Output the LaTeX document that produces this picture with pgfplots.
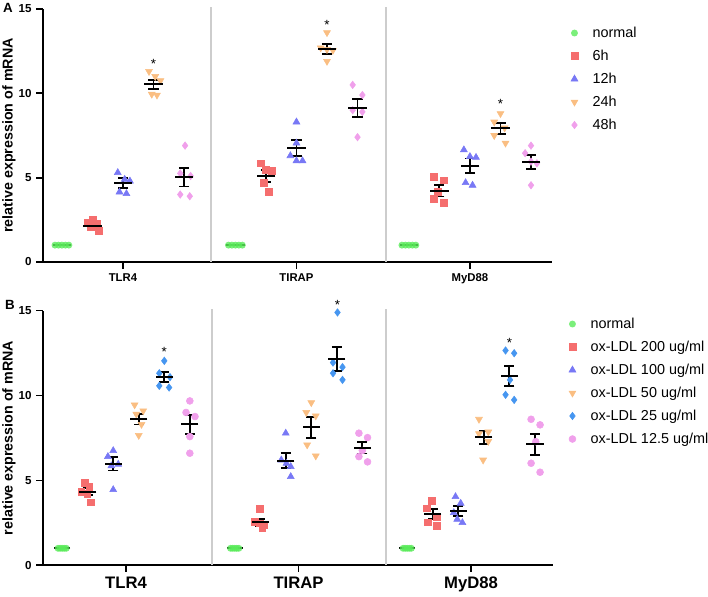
\documentclass[border=0pt]{standalone}
\usepackage{pgfplots}
\pgfplotsset{compat=1.18}
\usepackage{pgfplotstable}
\usepackage{fontspec}
\setmainfont{Liberation Sans}

\definecolor{cnormal}{RGB}{90,235,90}
\definecolor{cred}{RGB}{245,110,110}
\definecolor{cblue}{RGB}{120,120,245}
\definecolor{corange}{RGB}{250,190,130}
\definecolor{cpink}{RGB}{240,160,235}
\definecolor{cazure}{RGB}{70,150,240}
\definecolor{csep}{RGB}{205,205,205}

% mean and SEM per group (A: time course, B: ox-LDL dose)
\pgfplotstableread{
x      m      e
-0.176 2.15   0.15
0      4.68   0.28
0.176  10.53  0.28
0.352  5.02   0.54
0.824  5.10   0.36
1      6.75   0.47
1.176  12.62  0.28
1.352  9.15   0.53
1.824  4.22   0.34
2      5.70   0.44
2.176  7.93   0.32
2.352  5.93   0.40
}\semA
\pgfplotstableread{
x      m      e
-0.222 4.34   0.20
-0.074 5.97   0.39
0.074  8.60   0.31
0.222  11.08  0.29
0.370  8.31   0.56
0.778  2.53   0.20
0.926  6.16   0.44
1.074  8.13   0.62
1.222  12.16  0.71
1.370  6.91   0.33
1.778  3.02   0.30
1.926  3.20   0.28
2.074  7.54   0.39
2.222  11.15  0.61
2.370  7.13   0.62
}\semB

\pgfplotsset{
  panel/.style={
    scale only axis, anchor=south west, clip=false,
    axis lines=left, axis line style={-, line width=1.3pt},
    ymin=0, ymax=15, ytick={0,5,10,15},
    xtick={0,1,2}, xticklabels={TLR4,TIRAP,MyD88},
    tick align=outside, major tick length=5pt,
    tick style={black, line width=1.3pt},
    /pgf/number format/assume math mode=true,
    yticklabel style={font=\bfseries\fontsize{8.7}{10}\selectfont},
    ylabel={relative expression of mRNA},
    ylabel style={font=\bfseries\fontsize{10.7}{12}\selectfont,
      at={(axis description cs:-0.067,0.5)}, anchor=center},
    legend cell align=left,
    legend style={draw=none, fill=none, anchor=north west,
      font=\fontsize{10.8}{12}\selectfont,
      nodes={text height=8pt, text depth=2pt, inner ysep=0pt, inner xsep=11pt},
      row sep=7.25pt},
  },
  pts/.style={only marks, mark size=2.6pt},
  sem/.style={only marks, mark=-, mark size=#1, black, forget plot,
    mark options={line width=1.4pt},
    error bars/.cd, y dir=both, y explicit, error mark=|,
    error bar style={line width=1.4pt, black},
    error mark options={mark size=3.8pt, line width=1.4pt, black}},
  sem/.default=7pt,
}

\begin{document}
\begin{tikzpicture}
\useasboundingbox (0,0) rectangle (531pt,447.75pt);

% ---------------- panel A ----------------
\begin{axis}[panel, at={(32.25pt,251.25pt)},
  width=381.75pt, height=189.75pt,
  xmin=-0.461, xmax=2.473,
  xticklabel style={font=\bfseries\fontsize{8.5}{10}\selectfont},
  legend style={at={(rel axis cs:1.029,0.943)}}]
\draw[csep, line width=1.5pt] (axis cs:0.507,0) -- (axis cs:0.507,15.1);
\draw[csep, line width=1.5pt] (axis cs:1.516,0) -- (axis cs:1.516,15.1);
\addplot[only marks, mark=-, mark size=7pt, black, forget plot,
  mark options={line width=1.4pt}] coordinates {(-0.352,1)(0.648,1)(1.648,1)};
\addplot[pts, mark=*, color=cnormal, mark options={fill opacity=0.8, draw opacity=0}] coordinates {
  (-0.392,1)(-0.372,1)(-0.352,1)(-0.332,1)(-0.312,1)
  (0.608,1)(0.628,1)(0.648,1)(0.668,1)(0.688,1)
  (1.608,1)(1.628,1)(1.648,1)(1.668,1)(1.688,1)};
\addlegendentry{normal}
\addplot[pts, mark=square*, color=cred, mark size=2.5pt] coordinates {
  (-0.176,2.50)(-0.206,2.35)(-0.151,2.25)(-0.186,2.05)(-0.141,1.85)
  (0.794,5.85)(0.824,5.45)(0.858,5.40)(0.810,4.70)(0.842,4.15)
  (1.792,5.05)(1.850,4.85)(1.815,4.15)(1.792,3.75)(1.850,3.50)};
\addlegendentry{6h}
\addplot[pts, mark=triangle*, color=cblue, mark size=3pt] coordinates {
  (-0.030,5.30)(0.010,4.90)(0.040,4.80)(-0.020,4.15)(0.020,4.05)
  (1.000,8.30)(1.000,7.05)(0.965,6.30)(1.000,6.00)(1.035,6.00)
  (1.965,6.65)(2.000,6.25)(2.035,6.20)(1.975,4.70)(2.015,4.55)};
\addlegendentry{12h}
\addplot[pts, mark=triangle*, color=corange, mark size=3pt,
  mark options={rotate=180}] coordinates {
  (0.150,11.30)(0.186,11.00)(0.216,10.75)(0.166,9.95)(0.196,9.90)
  (1.176,13.60)(1.140,12.70)(1.176,12.60)(1.210,12.55)(1.176,11.90)
  (2.176,8.80)(2.140,8.30)(2.200,7.95)(2.140,7.50)(2.205,7.05)};
\addlegendentry{24h}
\addplot[pts, mark=diamond*, color=cpink, mark size=2.8pt] coordinates {
  (0.358,6.90)(0.330,5.25)(0.390,5.10)(0.330,4.00)(0.385,3.90)
  (1.324,10.50)(1.380,9.90)(1.324,9.00)(1.380,8.90)(1.352,7.40)
  (2.352,6.90)(2.318,6.45)(2.352,5.95)(2.386,5.85)(2.352,4.55)};
\addlegendentry{48h}
\addplot[sem] table[x=x, y=m, y error=e] {\semA};
\node[font=\fontsize{10}{12}\selectfont] at (axis cs:0.176,11.75) {*};
\node[font=\fontsize{10}{12}\selectfont] at (axis cs:1.176,14.05) {*};
\node[font=\fontsize{10}{12}\selectfont] at (axis cs:2.176,9.35) {*};
\end{axis}

% ---------------- panel B ----------------
\begin{axis}[panel, at={(32.25pt,23.8pt)},
  width=382.5pt, height=191pt,
  xmin=-0.481, xmax=2.475,
  xticklabel style={font=\bfseries\fontsize{12.5}{14}\selectfont},
  legend style={at={(rel axis cs:1.023,0.985)}}]
\draw[csep, line width=1.5pt] (axis cs:0.497,0) -- (axis cs:0.497,15.1);
\draw[csep, line width=1.5pt] (axis cs:1.507,0) -- (axis cs:1.507,15.1);
\addplot[only marks, mark=-, mark size=6pt, black, forget plot,
  mark options={line width=1.4pt}] coordinates {(-0.37,1)(0.63,1)(1.63,1)};
\addplot[pts, mark=*, color=cnormal, mark options={fill opacity=0.8, draw opacity=0}] coordinates {
  (-0.394,1)(-0.382,1)(-0.370,1)(-0.358,1)(-0.346,1)
  (0.606,1)(0.618,1)(0.630,1)(0.642,1)(0.654,1)
  (1.606,1)(1.618,1)(1.630,1)(1.642,1)(1.654,1)};
\addlegendentry{normal}
\addplot[pts, mark=square*, color=cred, mark size=2.5pt] coordinates {
  (-0.240,4.87)(-0.213,4.63)(-0.260,4.34)(-0.225,4.20)(-0.203,3.71)
  (0.775,3.32)(0.745,2.57)(0.775,2.47)(0.800,2.40)(0.790,2.22)
  (1.774,3.79)(1.745,3.36)(1.800,2.87)(1.750,2.53)(1.800,2.34)};
\addlegendentry{ox-LDL 200 ug/ml}
\addplot[pts, mark=triangle*, color=cblue, mark size=3pt] coordinates {
  (-0.074,6.75)(-0.105,6.40)(-0.045,5.95)(-0.085,5.85)(-0.074,4.45)
  (0.926,7.78)(0.900,6.20)(0.930,6.00)(0.955,5.81)(0.955,5.22)
  (1.910,4.04)(1.940,3.65)(1.900,3.10)(1.920,2.71)(1.950,2.51)};
\addlegendentry{ox-LDL 100 ug/ml}
\addplot[pts, mark=triangle*, color=corange, mark size=3pt,
  mark options={rotate=180}] coordinates {
  (0.050,9.45)(0.100,9.10)(0.060,8.90)(0.090,8.30)(0.074,7.65)
  (1.074,9.58)(1.045,9.00)(1.100,8.80)(1.050,7.09)(1.100,6.44)
  (2.046,8.60)(2.100,7.85)(2.046,7.75)(2.100,7.30)(2.070,6.20)};
\addlegendentry{ox-LDL 50 ug/ml}
\addplot[pts, mark=diamond*, color=cazure, mark size=2.8pt] coordinates {
  (0.222,12.04)(0.193,11.31)(0.255,11.08)(0.193,10.57)(0.250,10.47)
  (1.226,14.89)(1.200,11.94)(1.255,11.67)(1.200,11.31)(1.255,10.92)
  (2.200,12.65)(2.250,12.49)(2.226,10.92)(2.200,10.04)(2.250,9.74)};
\addlegendentry{ox-LDL 25 ug/ml}
\addplot[pts, mark=*, color=cpink, mark size=2.6pt] coordinates {
  (0.370,9.68)(0.348,9.00)(0.400,8.76)(0.370,7.58)(0.370,6.60)
  (1.350,7.78)(1.400,7.52)(1.370,6.76)(1.350,6.40)(1.400,6.09)
  (2.348,8.60)(2.400,8.27)(2.375,7.28)(2.348,6.01)(2.400,5.48)};
\addlegendentry{ox-LDL 12.5 ug/ml}
\addplot[sem=6.5pt] table[x=x, y=m, y error=e] {\semB};
\node[font=\fontsize{10}{12}\selectfont] at (axis cs:0.222,12.55) {*};
\node[font=\fontsize{10}{12}\selectfont] at (axis cs:1.226,15.33) {*};
\node[font=\fontsize{10}{12}\selectfont] at (axis cs:2.222,13.1) {*};
\end{axis}

\node[font=\bfseries\fontsize{10}{12}\selectfont] at (6pt,441.75pt) {A};
\node[font=\bfseries\fontsize{10}{12}\selectfont] at (7.5pt,219pt) {B};
\end{tikzpicture}
\end{document}
